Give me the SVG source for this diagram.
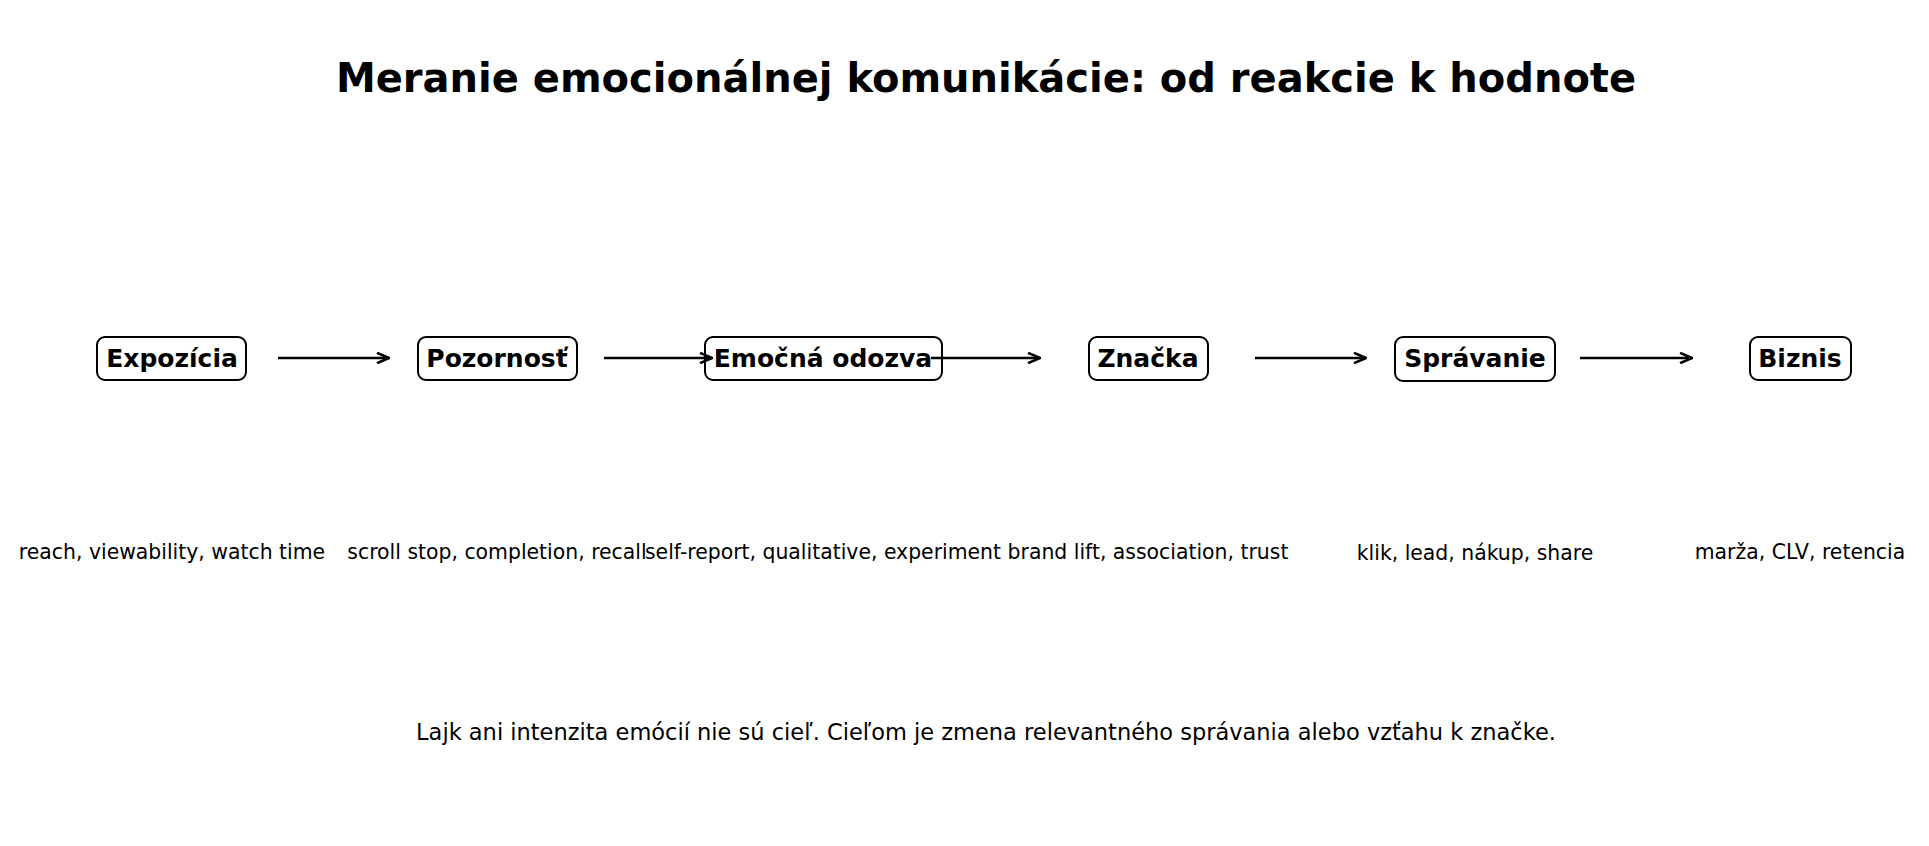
<svg xmlns="http://www.w3.org/2000/svg" width="1929" height="846" viewBox="0 0 1929 846">
<defs>
<marker id="ah" viewBox="0 0 14 12" refX="13" refY="6" markerWidth="14" markerHeight="12" markerUnits="userSpaceOnUse" orient="auto">
<path d="M1,0.8 L13,6 L1,11.2" fill="none" stroke="#000" stroke-width="2.5"/>
</marker>
</defs>
<style>
.title{font-family:"DejaVu Sans",sans-serif;font-weight:bold;font-size:40px;fill:#000;text-anchor:middle}
.box{fill:#fff;stroke:#000;stroke-width:2}
.nl{font-family:"DejaVu Sans",sans-serif;font-weight:bold;font-size:25px;fill:#000;text-anchor:middle}
.sub{font-family:"DejaVu Sans",sans-serif;font-size:20.4px;fill:#000;text-anchor:middle}
.foot{font-family:"DejaVu Sans",sans-serif;font-size:22.5px;fill:#000;text-anchor:middle}
.arr{stroke:#000;stroke-width:2.5;fill:none;marker-end:url(#ah)}
</style>
<rect width="1929" height="846" fill="#fff"/>
<text class="title" x="986" y="92">Meranie emocionálnej komunikácie: od reakcie k hodnote</text>
<g id="n1"><rect class="box" x="97" y="337" width="149" height="43" rx="8"/><text class="nl" x="172" y="367">Expozícia</text></g>
<g id="n2"><rect class="box" x="418" y="337" width="159" height="43" rx="8"/><text class="nl" x="497" y="367">Pozornosť</text></g>
<g id="n3"><rect class="box" x="705" y="337" width="237" height="43" rx="8"/><text class="nl" x="823" y="367">Emočná odozva</text></g>
<g id="n4"><rect class="box" x="1089" y="337" width="119" height="43" rx="8"/><text class="nl" x="1148" y="367">Značka</text></g>
<g id="n5"><rect class="box" x="1395" y="337" width="160" height="44" rx="8"/><text class="nl" x="1475" y="367">Správanie</text></g>
<g id="n6"><rect class="box" x="1750" y="337" width="101" height="43" rx="8"/><text class="nl" x="1800" y="367">Biznis</text></g>
<g id="connectors">
<line class="arr" x1="278" y1="358" x2="389" y2="358"/>
<line class="arr" x1="604" y1="358" x2="712" y2="358"/>
<line class="arr" x1="931" y1="358" x2="1040" y2="358"/>
<line class="arr" x1="1255" y1="358" x2="1366" y2="358"/>
<line class="arr" x1="1580" y1="358" x2="1692" y2="358"/>
</g>
<g id="labels">
<text class="sub" x="172" y="559">reach, viewability, watch time</text>
<text class="sub" x="497" y="559">scroll stop, completion, recall</text>
<text class="sub" x="823" y="559">self-report, qualitative, experiment</text>
<text class="sub" x="1148" y="559">brand lift, association, trust</text>
<text class="sub" x="1475" y="560">klik, lead, nákup, share</text>
<text class="sub" x="1800" y="559">marža, CLV, retencia</text>
</g>
<text class="foot" x="986" y="740">Lajk ani intenzita emócií nie sú cieľ. Cieľom je zmena relevantného správania alebo vzťahu k značke.</text>
</svg>
